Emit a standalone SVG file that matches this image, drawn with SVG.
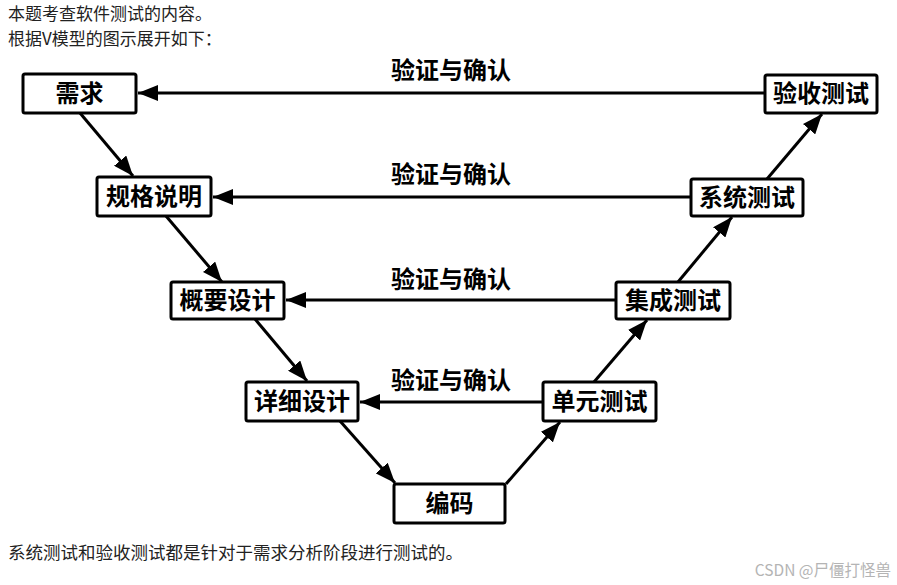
<svg xmlns="http://www.w3.org/2000/svg" width="897" height="585" viewBox="0 0 897 585">
<style>
.box{fill:#fff;stroke:#000;stroke-width:3}
.bt{font-family:"Noto Sans CJK SC","Noto Sans",sans-serif;font-size:24px;font-weight:bold;text-anchor:middle;fill:#000}
.lab{font-family:"Noto Sans CJK SC","Noto Sans",sans-serif;font-size:24px;font-weight:bold;text-anchor:middle;fill:#000}
.con line{stroke:#000;stroke-width:3;marker-end:url(#ah)}
.note{font-family:"Noto Sans CJK SC","Noto Sans",sans-serif;font-size:17px;fill:#222}
.wm{font-family:"Noto Sans CJK SC","Noto Sans",sans-serif;font-size:15.5px;fill:#b4b4b4;text-anchor:end}
</style>
<defs>
<marker id="ah" markerUnits="userSpaceOnUse" markerWidth="20" markerHeight="16" refX="20" refY="8" orient="auto">
<path d="M0,0 L20,8 L0,16 z" fill="#000"/>
</marker>
</defs>
<rect width="897" height="585" fill="#fff"/>
<text class="note" x="8" y="20">本题考查软件测试的内容。</text>
<text class="note" x="8" y="45">根据V模型的图示展开如下：</text>

<g class="con" id="connectors">
<line x1="765" y1="93" x2="138" y2="93"/>
<line x1="691" y1="197" x2="213" y2="197"/>
<line x1="616" y1="300" x2="286" y2="300"/>
<line x1="543" y1="402" x2="360" y2="402"/>
<line x1="80" y1="113" x2="133" y2="176"/>
<line x1="166" y1="216" x2="222" y2="282"/>
<line x1="255" y1="319" x2="307" y2="381"/>
<line x1="340" y1="421" x2="395" y2="483"/>
<line x1="506" y1="484" x2="560" y2="422"/>
<line x1="594" y1="382" x2="647" y2="320"/>
<line x1="678" y1="282" x2="732" y2="217"/>
<line x1="767" y1="179" x2="822" y2="114"/>
</g>

<g id="labels">
<text class="lab" x="451" y="79">验证与确认</text>
<text class="lab" x="451" y="183">验证与确认</text>
<text class="lab" x="451" y="288">验证与确认</text>
<text class="lab" x="451" y="389">验证与确认</text>
</g>

<g id="n-xuqiu"><rect class="box" x="23" y="74" width="113" height="39" rx="2"/><text class="bt" x="79.5" y="102">需求</text></g>
<g id="n-guige"><rect class="box" x="97" y="177" width="114" height="39" rx="2"/><text class="bt" x="154" y="205">规格说明</text></g>
<g id="n-gaiyao"><rect class="box" x="171" y="282" width="113" height="37" rx="2"/><text class="bt" x="227.5" y="309">概要设计</text></g>
<g id="n-xiangxi"><rect class="box" x="246" y="382" width="112" height="39" rx="2"/><text class="bt" x="302" y="410">详细设计</text></g>
<g id="n-bianma"><rect class="box" x="394" y="484" width="111" height="39" rx="2"/><text class="bt" x="449.5" y="512">编码</text></g>
<g id="n-danyuan"><rect class="box" x="543" y="382" width="113" height="39" rx="2"/><text class="bt" x="599.5" y="410">单元测试</text></g>
<g id="n-jicheng"><rect class="box" x="616" y="282" width="114" height="37" rx="2"/><text class="bt" x="673" y="309">集成测试</text></g>
<g id="n-xitong"><rect class="box" x="691" y="179" width="112" height="37" rx="2"/><text class="bt" x="747" y="206">系统测试</text></g>
<g id="n-yanshou"><rect class="box" x="765" y="75" width="112" height="38" rx="2"/><text class="bt" x="821" y="102">验收测试</text></g>

<text class="note" x="8" y="559" style="font-size:17.5px">系统测试和验收测试都是针对于需求分析阶段进行测试的。</text>
<text class="wm" x="891" y="576">CSDN @尸僵打怪兽</text>
</svg>
